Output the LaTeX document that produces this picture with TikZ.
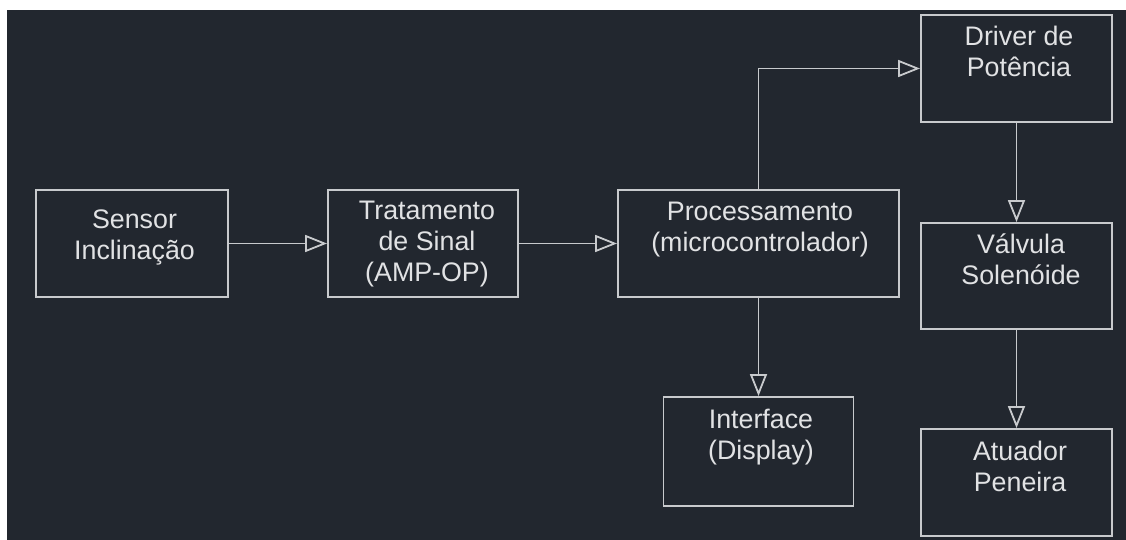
\documentclass[tikz,border=0pt]{standalone}
\usepackage{fontspec}
\setmainfont{Liberation Sans}
\usetikzlibrary{arrows.meta}
\definecolor{bgc}{RGB}{34,39,47}
\definecolor{linec}{RGB}{200,202,205}
\definecolor{txtc}{RGB}{225,226,228}
\begin{document}
\begin{tikzpicture}[x=1pt,y=-1pt,
  blk/.style={draw=linec, line width=1.9pt, rectangle, inner sep=0pt},
  lbl/.style={text=txtc, align=center, anchor=base, inner sep=0pt,
    font=\fontsize{26.8}{31}\selectfont},
  flow/.style={draw=linec, line width=1.8pt,
    -{Triangle[open, length=22pt, width=17pt, line width=1.8pt]}}]
\useasboundingbox (0,0) rectangle (1126,540);
\fill[white] (0,0) rectangle (1126,540);
\fill[bgc] (7,10) rectangle (1126,540);
% boxes
\node[blk, minimum width=192pt, minimum height=107pt] (sensor) at (132,243.5) {};
\node[blk, minimum width=190pt, minimum height=107pt] (trat) at (423,243.5) {};
\node[blk, minimum width=281pt, minimum height=107pt] (proc) at (758.5,243.5) {};
\node[blk, minimum width=190pt, minimum height=109pt] (iface) at (758.5,451.5) {};
\node[blk, minimum width=191pt, minimum height=107pt] (driver) at (1016.5,68.5) {};
\node[blk, minimum width=191pt, minimum height=106pt] (valv) at (1016.5,276) {};
\node[blk, minimum width=191pt, minimum height=107pt] (atu) at (1016.5,482.5) {};
% labels (anchored at the baseline of the last line)
\node[lbl] (tsensor) at (134.5,259) {Sensor\\Inclinação};
\node[lbl] (ttrat) at (427,281) {Tratamento\\de Sinal\\(AMP-OP)};
\node[lbl] (tproc) at (760,251) {Processamento\\(microcontrolador)};
\node[lbl] (tiface) at (761,459) {Interface\\(Display)};
\node[lbl] (tdriver) at (1019,77) {Driver de\\Potência};
\node[lbl] (tvalv) at (1021,284) {Válvula\\Solenóide};
\node[lbl] (tatu) at (1020,491) {Atuador\\Peneira};
% connectors
\draw[flow] (sensor.east) -- (trat.west);
\draw[flow] (trat.east) -- (proc.west);
\draw[flow] (proc.north) |- (driver.west);
\draw[flow] (proc.south) -- (iface.north);
\draw[flow] (driver.south) -- (valv.north);
\draw[flow] (valv.south) -- (atu.north);
\end{tikzpicture}
\end{document}
